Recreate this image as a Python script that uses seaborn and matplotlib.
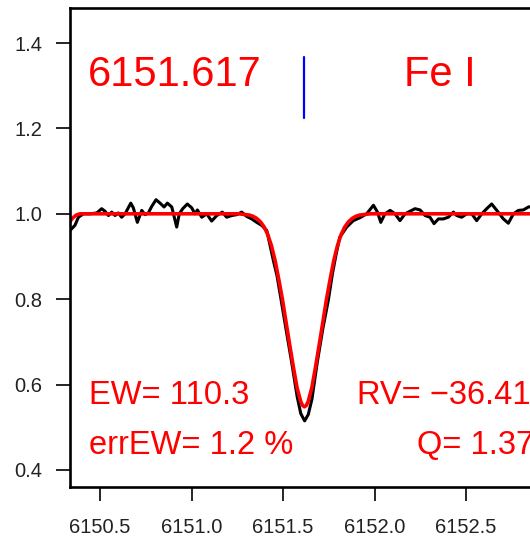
import matplotlib
matplotlib.use("Agg")
import matplotlib.pyplot as plt
import seaborn as sns
import pandas as pd

# ---- data ----
obs_wave = [6150.336, 6150.363, 6150.382, 6150.409, 6150.445, 6150.482, 6150.509, 6150.527,
            6150.546, 6150.564, 6150.582, 6150.600, 6150.618, 6150.637, 6150.668, 6150.682,
            6150.704, 6150.728, 6150.746, 6150.764, 6150.782, 6150.806, 6150.828, 6150.850,
            6150.868, 6150.892, 6150.919, 6150.933, 6150.952, 6150.977, 6151.001, 6151.019,
            6151.032, 6151.056, 6151.083, 6151.110, 6151.138, 6151.168, 6151.192, 6151.220,
            6151.247, 6151.274, 6151.301, 6151.329, 6151.356, 6151.383, 6151.411, 6151.447,
            6151.467, 6151.490, 6151.517, 6151.548, 6151.577, 6151.597, 6151.618, 6151.638,
            6151.658, 6151.687, 6151.718, 6151.748, 6151.770, 6151.790, 6151.810, 6151.848,
            6151.884, 6151.921, 6151.957, 6151.994, 6152.016, 6152.034, 6152.057, 6152.085,
            6152.112, 6152.139, 6152.167, 6152.203, 6152.221, 6152.249, 6152.276, 6152.303,
            6152.325, 6152.349, 6152.376, 6152.403, 6152.431, 6152.449, 6152.476, 6152.504,
            6152.531, 6152.558, 6152.586, 6152.613, 6152.640, 6152.668, 6152.704, 6152.731,
            6152.759, 6152.786, 6152.813, 6152.841, 6152.860, 6152.885, 6152.905]
obs_flux = [0.961, 0.973, 0.992, 1.000, 1.000, 1.002, 1.012, 1.006,
            0.996, 1.004, 0.996, 1.002, 0.992, 1.000, 1.025, 1.014,
            0.980, 1.008, 0.998, 1.002, 1.017, 1.033, 1.025, 1.016,
            1.025, 1.016, 0.969, 1.000, 1.012, 1.023, 1.014, 1.000,
            1.009, 0.992, 1.000, 0.983, 0.996, 1.004, 0.992, 0.996,
            0.998, 1.004, 0.994, 0.988, 0.980, 0.973, 0.961, 0.891,
            0.855, 0.797, 0.728, 0.650, 0.572, 0.532, 0.515, 0.530,
            0.566, 0.652, 0.732, 0.799, 0.860, 0.905, 0.945, 0.969,
            0.984, 0.991, 1.000, 1.020, 1.004, 0.980, 1.000, 1.008,
            1.000, 0.984, 1.000, 1.008, 1.012, 1.009, 0.996, 0.992,
            0.977, 0.988, 0.988, 0.992, 1.004, 0.996, 0.992, 1.000,
            1.000, 0.984, 1.000, 1.012, 1.023, 1.008, 0.988, 0.978,
            1.000, 1.008, 1.009, 1.016, 1.017, 1.010, 1.002]

fit_wave = [6150.336, 6150.350, 6150.370, 6150.390, 6151.000, 6151.257, 6151.277, 6151.297,
            6151.317, 6151.337, 6151.357, 6151.377, 6151.397, 6151.417, 6151.437, 6151.457,
            6151.477, 6151.497, 6151.517, 6151.537, 6151.557, 6151.577, 6151.597, 6151.607,
            6151.617, 6151.627, 6151.637, 6151.657, 6151.677, 6151.697, 6151.717, 6151.737,
            6151.757, 6151.777, 6151.797, 6151.817, 6151.837, 6151.857, 6151.877, 6151.897,
            6151.917, 6151.937, 6151.957, 6151.977, 6152.400, 6152.905]
fit_flux = [0.982, 0.990, 0.997, 1.000, 1.000, 1.000, 0.999, 0.998,
            0.997, 0.994, 0.989, 0.981, 0.969, 0.951, 0.925, 0.890,
            0.846, 0.799, 0.745, 0.692, 0.640, 0.592, 0.560, 0.551,
            0.548, 0.551, 0.560, 0.592, 0.640, 0.692, 0.745, 0.799,
            0.846, 0.890, 0.925, 0.951, 0.969, 0.981, 0.989, 0.994,
            0.997, 0.998, 0.999, 1.000, 1.000, 1.000]

line_center = 6151.617
marker_y = [1.224, 1.367]

label_wave = "6151.617"
label_elem = "Fe I"
label_ew = "EW= 110.3"
label_err = "errEW= 1.2 %"
label_rv = "RV= \u221236.41"
label_q = "Q= 1.37"

xticks = [6150.5, 6151.0, 6151.5, 6152.0, 6152.5]
xtick_labels = ["6150.5", "6151.0", "6151.5", "6152.0", "6152.5"]
yticks = [0.4, 0.6, 0.8, 1.0, 1.2, 1.4]
ytick_labels = ["0.4", "0.6", "0.8", "1.0", "1.2", "1.4"]

# ---- plot ----
sns.set_style("ticks")
plt.rcParams["font.family"] = ["Liberation Sans", "DejaVu Sans"]

fig = plt.figure(figsize=(5.30, 5.42), dpi=100)
ax = fig.add_axes([0.1321, 0.1006, 0.885, 0.8846])

obs = pd.DataFrame({"wave": obs_wave, "flux": obs_flux})
fit = pd.DataFrame({"wave": fit_wave, "flux": fit_flux})

sns.lineplot(data=obs, x="wave", y="flux", ax=ax, color="black", lw=2.2,
             estimator=None, sort=False)
sns.lineplot(data=fit, x="wave", y="flux", ax=ax, color="#ff0000", lw=2.6,
             estimator=None, sort=False)
ax.plot([line_center, line_center], marker_y, color="#0000ff", lw=1.6)

ax.set_xlim(6150.336, 6152.899)
ax.set_ylim(0.359, 1.482)
ax.set_xticks(xticks)
ax.set_xticklabels(xtick_labels)
ax.set_yticks(yticks)
ax.set_yticklabels(ytick_labels)
ax.set_xlabel("")
ax.set_ylabel("")
ax.tick_params(axis="both", length=10, width=1.2, labelsize=14.5, colors="black",
               labelcolor="#222222")
ax.tick_params(axis="x", pad=12)
ax.tick_params(axis="y", pad=10)
for s in ax.spines.values():
    s.set_linewidth(1.9)
    s.set_color("black")

red = "#ff0000"
ax.text(6150.434, 1.326, label_wave, color=red, fontsize=30, ha="left", va="center")
ax.text(6152.358, 1.326, label_elem, color=red, fontsize=30, ha="center", va="center")
ax.text(6150.440, 0.575, label_ew, color=red, fontsize=23.5, ha="left", va="center")
ax.text(6150.440, 0.458, label_err, color=red, fontsize=23.5, ha="left", va="center")
ax.text(6151.904, 0.575, label_rv, color=red, fontsize=23.5, ha="left", va="center")
ax.text(6152.232, 0.458, label_q, color=red, fontsize=23.5, ha="left", va="center")

fig.savefig("out.png", dpi=100)
